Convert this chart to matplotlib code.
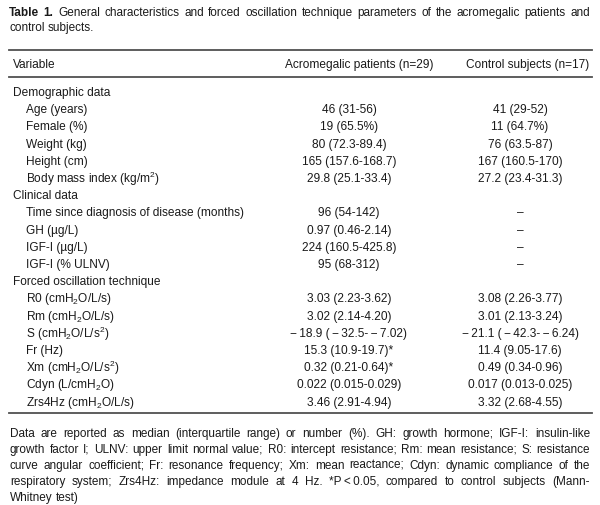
import matplotlib
matplotlib.use("Agg")
from matplotlib import pyplot as plt

plt.rcParams['font.family'] = ['Liberation Sans', 'DejaVu Sans']
plt.rcParams['mathtext.fontset'] = 'custom'
plt.rcParams['mathtext.rm'] = 'Liberation Sans'
plt.rcParams['mathtext.it'] = 'Liberation Sans:italic'
plt.rcParams['mathtext.bf'] = 'Liberation Sans:bold'

# table content
headers = ["Variable", "Acromegalic patients (n=29)", "Control subjects (n=17)"]

sections = ["Demographic data", "Clinical data", "Forced oscillation technique"]

variables = [
    ["Age (years)", "Female (%)", "Weight (kg)", "Height (cm)",
     "Body mass index (kg/m$^2$)"],
    ["Time since diagnosis of disease (months)", "GH (\u00b5g/L)",
     "IGF-I (\u00b5g/L)", "IGF-I (% ULNV)"],
    ["R0 (cmH$_2$O/L/s)", "Rm (cmH$_2$O/L/s)", "S (cmH$_2$O/L/s$^2$)",
     "Fr (Hz)", "Xm (cmH$_2$O/L/s$^2$)", "Cdyn (L/cmH$_2$O)",
     "Zrs4Hz (cmH$_2$O/L/s)"],
]

acro = [
    ["46 (31-56)", "19 (65.5%)", "80 (72.3-89.4)", "165 (157.6-168.7)",
     "29.8 (25.1-33.4)"],
    ["96 (54-142)", "0.97 (0.46-2.14)", "224 (160.5-425.8)", "95 (68-312)"],
    ["3.03 (2.23-3.62)", "3.02 (2.14-4.20)",
     "\u2212\u200918.9 (\u2009\u2212\u200932.5-\u2009\u2212\u20097.02)",
     "15.3 (10.9-19.7)*", "0.32 (0.21-0.64)*", "0.022 (0.015-0.029)",
     "3.46 (2.91-4.94)"],
]

control = [
    ["41 (29-52)", "11 (64.7%)", "76 (63.5-87)", "167 (160.5-170)",
     "27.2 (23.4-31.3)"],
    ["\u2013", "\u2013", "\u2013", "\u2013"],
    ["3.08 (2.26-3.77)", "3.01 (2.13-3.24)",
     "\u2212\u200921.1 (\u2009\u2212\u200942.3-\u2009\u2212\u20096.24)",
     "11.4 (9.05-17.6)", "0.49 (0.34-0.96)", "0.017 (0.013-0.025)",
     "3.32 (2.68-4.55)"],
]

title_lines = [
    [("Table", "bold"), ("1.", "bold"), "General", "characteristics", "and",
     "forced", "oscillation", "technique", "parameters", "of", "the",
     "acromegalic", "patients", "and"],
    ["control", "subjects."],
]

note_lines = [
    "Data are reported as median (interquartile range) or number (%). GH: growth hormone; IGF-I: insulin-like",
    "growth factor I; ULNV: upper limit normal value; R0: intercept resistance; Rm: mean resistance; S: resistance",
    "curve angular coefficient; Fr: resonance frequency; Xm: mean reactance; Cdyn: dynamic compliance of the",
    "respiratory system; Zrs4Hz: impedance module at 4 Hz. *P\u2009<\u20090.05, compared to control subjects (Mann-",
    "Whitney test)",
]

W, H = 600, 506
fig = plt.figure(figsize=(W / 100, H / 100), dpi=100)
ax = fig.add_axes([0, 0, 1, 1])
ax.set_xlim(0, W)
ax.set_ylim(H, 0)
ax.axis("off")
renderer = fig.canvas.get_renderer()

txt_col = "#1a1a1a"
fs = 8.6
fs_par = 8.45
left, right = 9, 592


def justified(words, y, x0, x1, size, last=False):
    items = []
    for w in words:
        if isinstance(w, tuple):
            items.append(w)
        else:
            items.append((w, "normal"))
    objs = []
    total = 0
    for w, wt in items:
        t = ax.text(0, y, w, fontsize=size, fontweight=wt, color=txt_col,
                    va="center", ha="left")
        bb = t.get_window_extent(renderer)
        objs.append((t, bb.width))
        total += bb.width
    a = ax.text(0, 0, "a a", fontsize=size)
    b = ax.text(0, 0, "aa", fontsize=size)
    sp_w = a.get_window_extent(renderer).width - b.get_window_extent(renderer).width
    a.remove()
    b.remove()
    if last or len(objs) < 2:
        gap = sp_w
    else:
        gap = (x1 - x0 - total) / (len(objs) - 1)
    x = x0
    for t, wd in objs:
        t.set_x(x)
        x += wd + gap


# title
justified(title_lines[0], 13, 9, 590, fs_par)
justified(title_lines[1], 28, 9, 590, fs_par, last=True)

# rules
rule_kw = dict(color="#505050", lw=1.3)
ax.plot([left, right], [51, 51], **rule_kw)
ax.plot([left, right], [78, 78], **rule_kw)
ax.plot([left, right], [414, 414], **rule_kw)

# header
ax.text(13, 64.5, headers[0], fontsize=fs, color=txt_col, va="center")
ax.text(359, 64.5, headers[1], fontsize=fs, color=txt_col, va="center", ha="center")
ax.text(589, 64.5, headers[2], fontsize=fs, color=txt_col, va="center", ha="right")

# body
y0, dy = 93, 17.2
row = 0
for s, names, a_vals, c_vals in zip(sections, variables, acro, control):
    ax.text(13, y0 + row * dy, s, fontsize=fs, color=txt_col, va="center")
    row += 1
    for n, a, c in zip(names, a_vals, c_vals):
        y = y0 + row * dy
        ax.text(26, y, n, fontsize=fs, color=txt_col, va="center")
        ax.text(349, y, a, fontsize=fs, color=txt_col, va="center", ha="center")
        ax.text(520, y, c, fontsize=fs, color=txt_col, va="center", ha="center")
        row += 1

# footnote
for i, line in enumerate(note_lines):
    justified(line.split(" "), 434 + i * 16, 10, 590, fs_par,
              last=(i == len(note_lines) - 1))

fig.savefig("out.png", dpi=100)
